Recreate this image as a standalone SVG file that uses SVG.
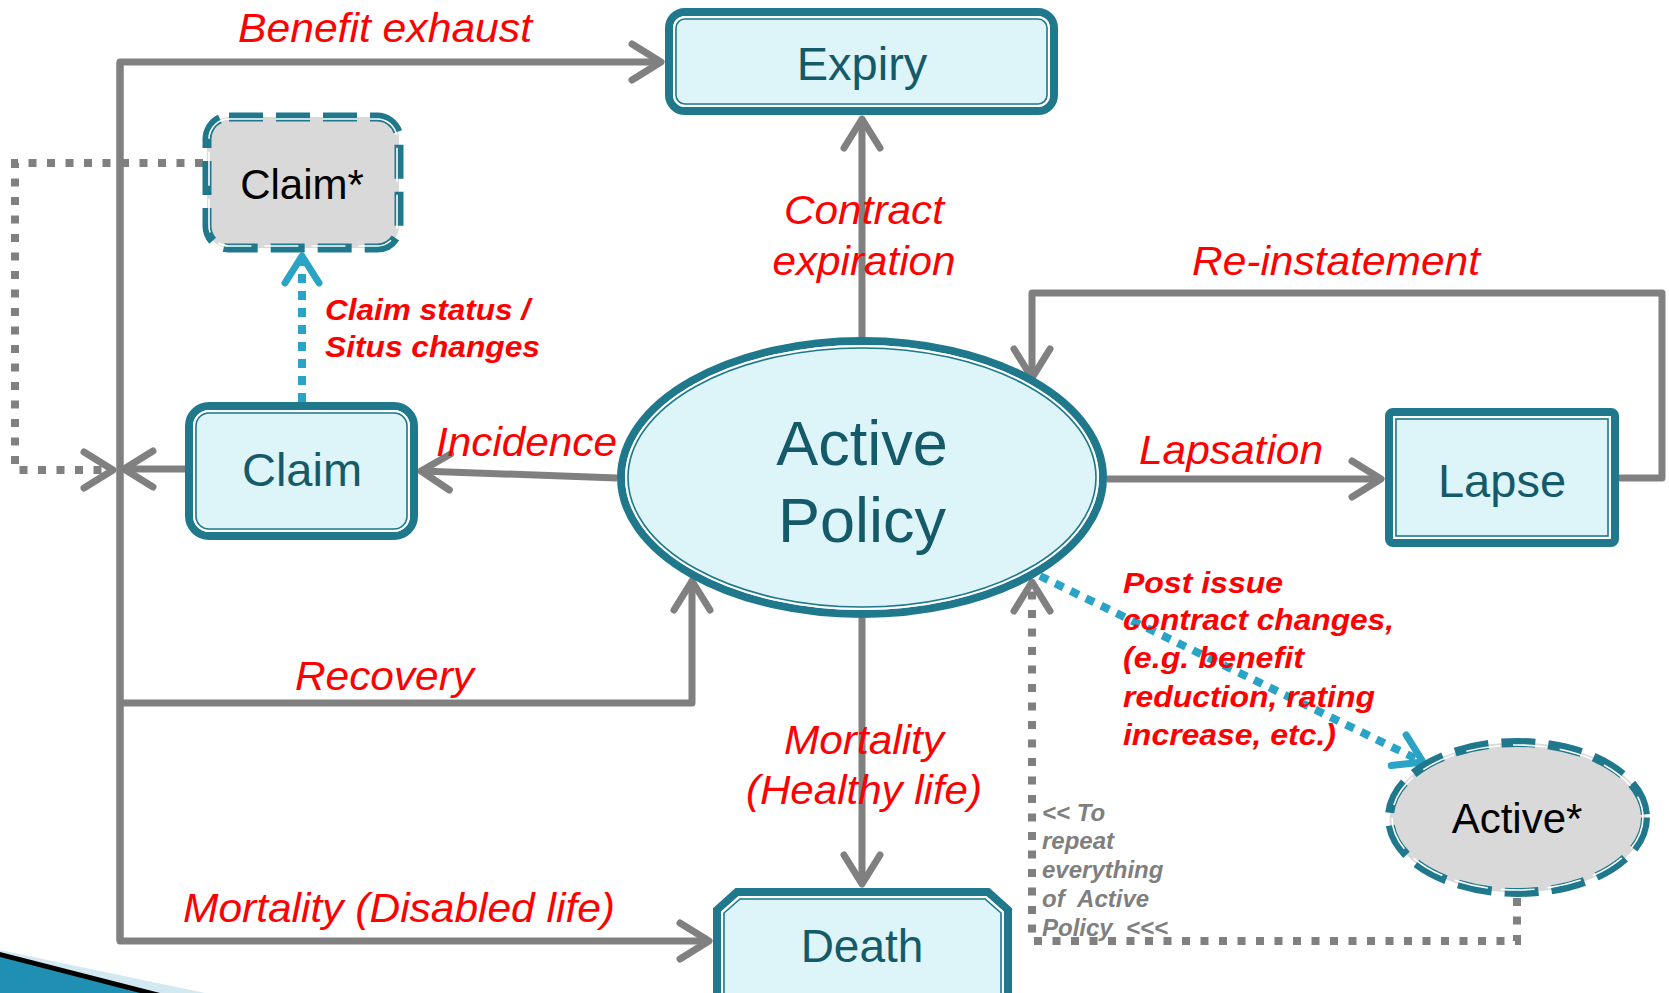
<svg xmlns="http://www.w3.org/2000/svg" width="1669" height="993" viewBox="0 0 1669 993">
<style>
.band{fill:#ddf4f9;stroke:#1f788b;stroke-width:8}
.gap{fill:none;stroke:#ffffff;stroke-width:2}
.thin{fill:none;stroke:#1f788b;stroke-width:1.6}
.dband{fill:#d9d9d9;stroke:#1f788b;stroke-width:9;stroke-dasharray:34 13}
.dgap{fill:none;stroke:#ffffff;stroke-width:1.6;stroke-dasharray:34 13}
.ntext{font-family:"Liberation Sans",Arial,sans-serif;fill:#155a69;text-anchor:middle}
.stext{font-family:"Liberation Sans",Arial,sans-serif;fill:#000000;text-anchor:middle}
.conn{fill:none;stroke:#808080;stroke-width:7;stroke-linejoin:round}
.dot{fill:none;stroke:#808080;stroke-width:8;stroke-dasharray:8 10.5}
.bdot{fill:none;stroke:#29a3c6;stroke-width:8;stroke-dasharray:9 8}
.lbl{font-family:"Liberation Sans",Arial,sans-serif;font-style:italic;fill:#ff0000;font-size:40px}
.blbl{font-family:"Liberation Sans",Arial,sans-serif;font-style:italic;font-weight:bold;fill:#ff0000;font-size:30px}
.glbl{font-family:"Liberation Sans",Arial,sans-serif;font-style:italic;font-weight:bold;fill:#7f7f7f;font-size:24px}
</style>
<defs>
<marker id="ag" markerUnits="userSpaceOnUse" markerWidth="70" markerHeight="70" viewBox="-40 -35 70 70" refX="0" refY="0" orient="auto" overflow="visible">
<path d="M-29,-18 L0,0 L-29,18" fill="none" stroke="#808080" stroke-width="7" stroke-linecap="round" stroke-linejoin="round"/>
</marker>
<marker id="ab" markerUnits="userSpaceOnUse" markerWidth="70" markerHeight="70" viewBox="-40 -35 70 70" refX="0" refY="0" orient="auto" overflow="visible">
<path d="M-27,-17 L0,0 L-27,17" fill="none" stroke="#29a3c6" stroke-width="7" stroke-linecap="round" stroke-linejoin="round"/>
</marker>
</defs>
<rect x="0" y="0" width="1669" height="993" fill="#ffffff"/>

<g id="decoration">
<polygon points="0,950 205,993 0,993" fill="#d3e9f1"/>
<polygon points="0,952 160,993 0,993" fill="#000000"/>
<polygon points="0,957 140,993 0,993" fill="#1f8fb3"/>
</g>

<g id="connectors">
<path class="conn" d="M120,62 V941 H709" marker-end="url(#ag)"/>
<path class="conn" d="M120,941 V62 H661" marker-end="url(#ag)"/>
<path class="conn" d="M120,703 H692 V581" marker-end="url(#ag)"/>
<path class="conn" d="M185,469 H124" marker-end="url(#ag)"/>
<path class="conn" d="M617,478 L421,471" marker-end="url(#ag)"/>
<path class="conn" d="M862,337 V119" marker-end="url(#ag)"/>
<path class="conn" d="M862,618 V884" marker-end="url(#ag)"/>
<path class="conn" d="M1107,479 H1381" marker-end="url(#ag)"/>
<path class="conn" d="M1619,478 H1662 V293 H1032 V378" marker-end="url(#ag)"/>
<path class="dot" d="M203,163 H15 V470 H113" marker-end="url(#ag)"/>
<path class="dot" d="M1517,898 V941 H1032 V582" marker-end="url(#ag)"/>
<path class="bdot" d="M1040,576 L1423,762" marker-end="url(#ab)"/>
<path class="bdot" d="M302,402 V256" marker-end="url(#ab)"/>
</g>

<g id="expiry">
<rect class="band" x="669" y="12" width="385" height="99" rx="16"/>
<rect class="gap" x="674" y="17" width="375" height="89" rx="11"/>
<rect class="thin" x="676" y="19" width="371" height="85" rx="9"/>
<text class="ntext" x="862" y="80" font-size="47">Expiry</text>
</g>

<g id="claim-star">
<rect class="dband" x="207" y="117" width="192" height="131" rx="22"/>
<rect class="dgap" x="209" y="119" width="188" height="127" rx="20"/>
<text class="stext" x="302" y="199" font-size="42">Claim*</text>
</g>

<g id="claim">
<rect class="band" x="189" y="406" width="225" height="130" rx="20"/>
<rect class="gap" x="194" y="411" width="215" height="120" rx="15"/>
<rect class="thin" x="196" y="413" width="211" height="116" rx="13"/>
<text class="ntext" x="302" y="486" font-size="47">Claim</text>
</g>

<g id="active-policy">
<ellipse class="band" cx="862" cy="477.5" rx="241" ry="136.5"/>
<ellipse class="gap" cx="862" cy="477.5" rx="236" ry="131.5"/>
<ellipse class="thin" cx="862" cy="477.5" rx="234" ry="129.5"/>
<text class="ntext" x="862" y="465" font-size="63">Active</text>
<text class="ntext" x="862" y="542" font-size="63">Policy</text>
</g>

<g id="lapse">
<rect class="band" x="1389" y="412" width="226" height="131" rx="4"/>
<rect class="gap" x="1394" y="417" width="216" height="121"/>
<rect class="thin" x="1396" y="419" width="212" height="117"/>
<text class="ntext" x="1502" y="497" font-size="47">Lapse</text>
</g>

<g id="active-star">
<ellipse class="dband" cx="1517.5" cy="817.5" rx="128" ry="75"/>
<ellipse class="dgap" cx="1517.5" cy="817.5" rx="125.5" ry="72.5"/>
<text class="stext" x="1517" y="833" font-size="42">Active*</text>
</g>

<g id="death">
<polygon class="band" points="717,1005 717,910 737,892 988,892 1008,910 1008,1005"/>
<polygon class="gap" points="722,1005 722,912 739,897 986,897 1003,912 1003,1005"/>
<polygon class="thin" points="724,1005 724,913 740,899 985,899 1001,913 1001,1005"/>
<text class="ntext" x="862" y="962" font-size="46">Death</text>
</g>

<g id="labels">
<text class="lbl" x="238" y="42" textLength="294" lengthAdjust="spacingAndGlyphs">Benefit exhaust</text>
<text class="lbl" x="864" y="224" text-anchor="middle" textLength="160" lengthAdjust="spacingAndGlyphs">Contract</text>
<text class="lbl" x="864" y="275" text-anchor="middle" textLength="183" lengthAdjust="spacingAndGlyphs">expiration</text>
<text class="lbl" x="1192" y="275" textLength="288" lengthAdjust="spacingAndGlyphs">Re-instatement</text>
<text class="lbl" x="436" y="456" textLength="181" lengthAdjust="spacingAndGlyphs">Incidence</text>
<text class="lbl" x="1139" y="464" textLength="184" lengthAdjust="spacingAndGlyphs">Lapsation</text>
<text class="lbl" x="295" y="690" textLength="179" lengthAdjust="spacingAndGlyphs">Recovery</text>
<text class="lbl" x="864" y="754" text-anchor="middle" textLength="160" lengthAdjust="spacingAndGlyphs">Mortality</text>
<text class="lbl" x="864" y="804" text-anchor="middle" textLength="236" lengthAdjust="spacingAndGlyphs">(Healthy life)</text>
<text class="lbl" x="183" y="922" textLength="432" lengthAdjust="spacingAndGlyphs">Mortality (Disabled life)</text>
<text class="blbl" x="325" y="320" textLength="205" lengthAdjust="spacingAndGlyphs">Claim status /</text>
<text class="blbl" x="325" y="357" textLength="215" lengthAdjust="spacingAndGlyphs">Situs changes</text>
<text class="blbl" x="1123" y="593" textLength="160" lengthAdjust="spacingAndGlyphs">Post issue</text>
<text class="blbl" x="1123" y="630" textLength="271" lengthAdjust="spacingAndGlyphs">contract changes,</text>
<text class="blbl" x="1123" y="668" textLength="181" lengthAdjust="spacingAndGlyphs">(e.g. benefit</text>
<text class="blbl" x="1123" y="707" textLength="252" lengthAdjust="spacingAndGlyphs">reduction, rating</text>
<text class="blbl" x="1123" y="745" textLength="213" lengthAdjust="spacingAndGlyphs">increase, etc.)</text>
<text class="glbl" x="1042" y="821">&lt;&lt; To</text>
<text class="glbl" x="1042" y="849">repeat</text>
<text class="glbl" x="1042" y="878">everything</text>
<text class="glbl" x="1042" y="907" xml:space="preserve">of  Active</text>
<text class="glbl" x="1042" y="936" xml:space="preserve">Policy  &lt;&lt;&lt;</text>
</g>
</svg>
